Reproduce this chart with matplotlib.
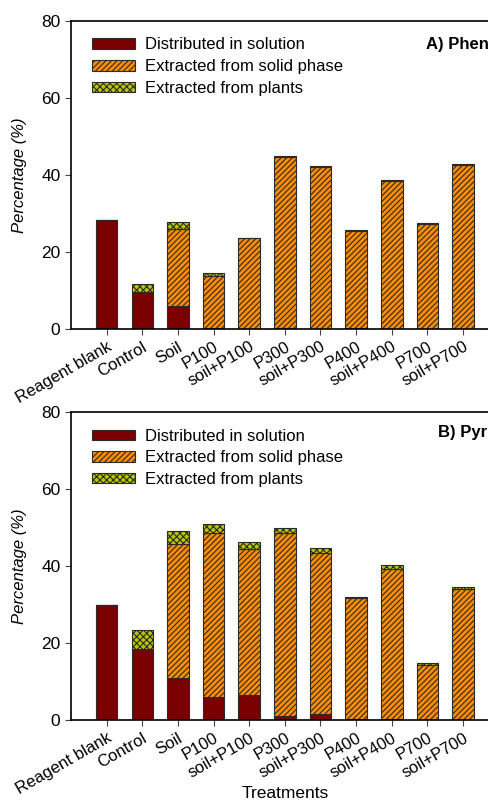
import matplotlib.pyplot as plt
import numpy as np

plt.rcParams['font.family'] = ['Liberation Sans', 'DejaVu Sans']
plt.rcParams['hatch.linewidth'] = 0.8

############### DATA ###############
treatments = ['Reagent blank', 'Control', 'Soil', 'P100', 'soil+P100', 'P300',
              'soil+P300', 'P400', 'soil+P400', 'P700', 'soil+P700']

# A) Phen...
phen_solution = [28.2, 9.5, 5.8, 0.3, 0.0, 0.3, 0.0, 0.3, 0.0, 0.0, 0.0]
phen_solid = [0.0, 0.0, 20.2, 13.3, 23.5, 44.3, 42.0, 25.2, 38.5, 27.3, 42.5]
phen_plants = [0.0, 2.2, 1.7, 0.8, 0.2, 0.3, 0.2, 0.1, 0.2, 0.2, 0.2]

# B) Pyr...
pyr_solution = [29.9, 18.4, 11.0, 6.1, 6.5, 0.95, 1.6, 0.3, 0.3, 0.0, 0.0]
pyr_solid = [0.0, 0.0, 34.7, 42.5, 37.9, 47.5, 41.8, 31.3, 38.9, 14.4, 34.1]
pyr_plants = [0.0, 5.1, 3.5, 2.2, 1.9, 1.4, 1.4, 0.3, 1.1, 0.3, 0.4]

############### STYLE ###############
col_sol = '#7a0000'
col_solid = '#ff8c00'
col_plant = '#b8c800'
edge = '#2a2a2a'


def draw_panel(ax, sol, solid, plants, title, tx, ty):
    x = np.arange(len(treatments))
    sol = np.array(sol)
    solid = np.array(solid)
    plants = np.array(plants)
    w = 0.6
    ax.bar(x, sol, w, color=col_sol, edgecolor=edge, linewidth=0.8,
           label='Distributed in solution')
    ax.bar(x, solid, w, bottom=sol, color=col_solid, edgecolor=edge,
           linewidth=0.8, hatch='//////', label='Extracted from solid phase')
    ax.bar(x, plants, w, bottom=sol + solid, color=col_plant, edgecolor=edge,
           linewidth=0.8, hatch='xxxxx', label='Extracted from plants')
    ax.set_xlim(-1, 11)
    ax.set_ylim(0, 80)
    ax.set_yticks([0, 20, 40, 60, 80])
    ax.set_xticks(x)
    ax.set_xticklabels(treatments, rotation=30, ha='right',
                       rotation_mode='anchor')
    ax.tick_params(axis='both', direction='out', length=4, labelsize=12.5,
                   width=0.8, color='#444')
    ax.tick_params(axis='x', labelsize=12)
    ax.set_ylabel('Percentage (%)', fontsize=12, style='italic', labelpad=10)
    ax.spines['right'].set_visible(False)
    for s in ['left', 'bottom', 'top']:
        ax.spines[s].set_linewidth(1.2)
    ax.legend(loc='upper left', frameon=False, fontsize=12,
              handlelength=2.6, handleheight=0.6, labelspacing=0.4,
              borderaxespad=0.6, handletextpad=0.6,
              bbox_to_anchor=(0.01, 1.0))
    ax.text(tx, ty, title, transform=ax.transAxes, fontsize=12,
            fontweight='bold', ha='left', va='center')


fig = plt.figure(figsize=(4.89, 8), dpi=100)
ax1 = fig.add_axes([0.145, 0.589, 0.875, 0.385])
ax2 = fig.add_axes([0.145, 0.1, 0.875, 0.385])

draw_panel(ax1, phen_solution, phen_solid, phen_plants, 'A) Phen', 0.829, 0.922)
draw_panel(ax2, pyr_solution, pyr_solid, pyr_plants, 'B) Pyr', 0.857, 0.932)
ax2.set_xlabel('Treatments', fontsize=12.5)
ax2.xaxis.set_label_coords(0.5, -0.215)

fig.savefig('out.png', dpi=100)
